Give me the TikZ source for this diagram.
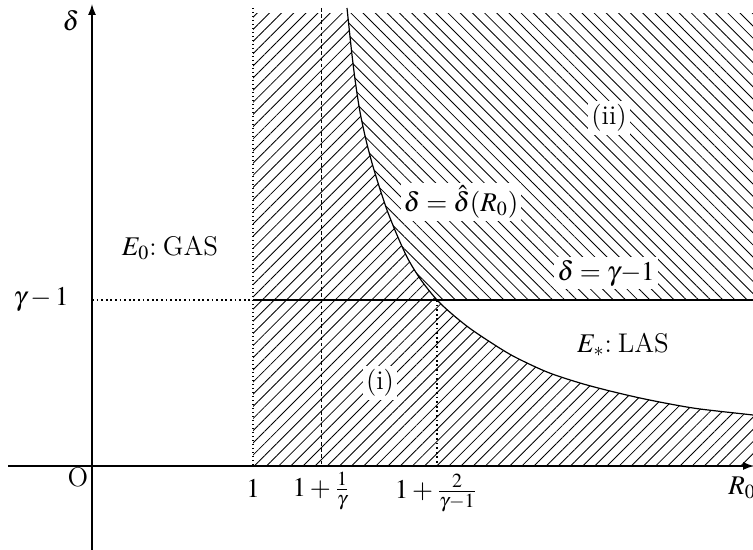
\documentclass[tikz,border=0pt]{standalone}
\usepackage{mathptmx}
\usetikzlibrary{arrows.meta,patterns.meta}
\begin{document}
\begin{tikzpicture}[x=0.5pt,y=-0.5pt,
  font=\fontsize{13.5}{16}\selectfont,
  axis/.style={line width=0.65pt,-{Latex[length=5.5pt,width=4pt]}},
  hatchne/.style={pattern={Lines[angle=45,distance=4.3pt,line width=0.42pt]}},
  hatchnw/.style={pattern={Lines[angle=-45,distance=4.3pt,line width=0.42pt]}},
  curveline/.style={line width=0.6pt},
  dotline/.style={line width=0.75pt,dash pattern=on 0.6pt off 1.4pt},
  dashline/.style={line width=0.5pt,dash pattern=on 1.8pt off 1.3pt},
  shortdash/.style={line width=0.6pt,dash pattern=on 0.9pt off 1.4pt},
  lab/.style={inner sep=1pt},
  wlab/.style={fill=white,inner sep=1.5pt}]
\useasboundingbox (0,0) rectangle (753,550);
\clip (0,0) rectangle (753,550);
% hatched regions
\begin{scope}
  \clip (253,14) rectangle (760,466);
  \fill[hatchne] (253,8) -- plot[smooth,tension=0.5] coordinates {(347,8) (349.3,30) (352,55) (355.5,83) (360,112) (366,140) (372,163) (379,186) (387,210) (397,235) (408,259) (421,280) (437,300) (452,314) (468,327) (487,340) (513,356) (547,372) (580,383) (610,391) (640,398) (670,404) (700,409) (753,415) (760,416)} -- (760,466) -- (253,466) -- cycle;
\end{scope}
\begin{scope}
  \clip (253,14) rectangle (760,300);
  \fill[hatchnw] (760,8) -- plot[smooth,tension=0.5] coordinates {(347,8) (349.3,30) (352,55) (355.5,83) (360,112) (366,140) (372,163) (379,186) (387,210) (397,235) (408,259) (421,280) (437,300) (452,314) (468,327) (487,340) (513,356) (547,372) (580,383) (610,391) (640,398) (670,404) (700,409) (753,415) (760,416)} -- cycle;
\end{scope}
% labels on hatching
\node[wlab] (ii) at (609,118) {(ii)};
\node[wlab] (dhat) at (461,202) {$\delta=\hat{\delta}(R_0)$};
\node[wlab] (dg) at (606,273) {$\delta=\gamma{-}1$};
\node[wlab] (i) at (380,383) {(i)};
% boundary curve and lines
\draw[curveline] plot[smooth,tension=0.5] coordinates {(347,8) (349.3,30) (352,55) (355.5,83) (360,112) (366,140) (372,163) (379,186) (387,210) (397,235) (408,259) (421,280) (437,300) (452,314) (468,327) (487,340) (513,356) (547,372) (580,383) (610,391) (640,398) (670,404) (700,409) (753,415) (760,416)};
\coordinate (h1) at (253,300);
\coordinate (h2) at (760,300);
\coordinate (hy) at (92,300);
\draw[line width=0.7pt] (h1) -- (h2);
\draw[shortdash] (hy) -- (h1);
\coordinate (v1t) at (253,8);
\coordinate (v1b) at (253,466);
\draw[dotline] (v1t) -- (v1b);
\coordinate (v2t) at (321,8);
\coordinate (v2b) at (321,466);
\draw[dashline] (v2t) -- (v2b);
\coordinate (v3t) at (437,300);
\coordinate (v3b) at (437,466);
\draw[shortdash] (v3t) -- (v3b);
% axes
\coordinate (xs) at (8,466);
\coordinate (xe) at (754,466);
\coordinate (ys) at (92,550);
\coordinate (ye) at (92,4);
\draw[axis] (xs) -- (xe);
\draw[axis] (ys) -- (ye);
% axis labels
\node[lab] (delta) at (71,21) {$\delta$};
\node[lab,anchor=west] (R0) at (726,488) {$R_0$};
\node[lab] (gm1) at (41,300) {$\gamma-1$};
\node[lab] (O) at (78,477) {O};
\node[lab] (one) at (253,488) {$1$};
\node[lab] (t1) at (321,491) {$1+\frac{1}{\gamma}$};
\node[lab] (t2) at (436,493) {$1+\frac{2}{\gamma-1}$};
\node[lab] (E0) at (170,248) {$E_0$:\hspace{0.22em}GAS};
\node[lab] (Es) at (623,345) {$E_*$:\hspace{0.22em}LAS};
\end{tikzpicture}
\end{document}
